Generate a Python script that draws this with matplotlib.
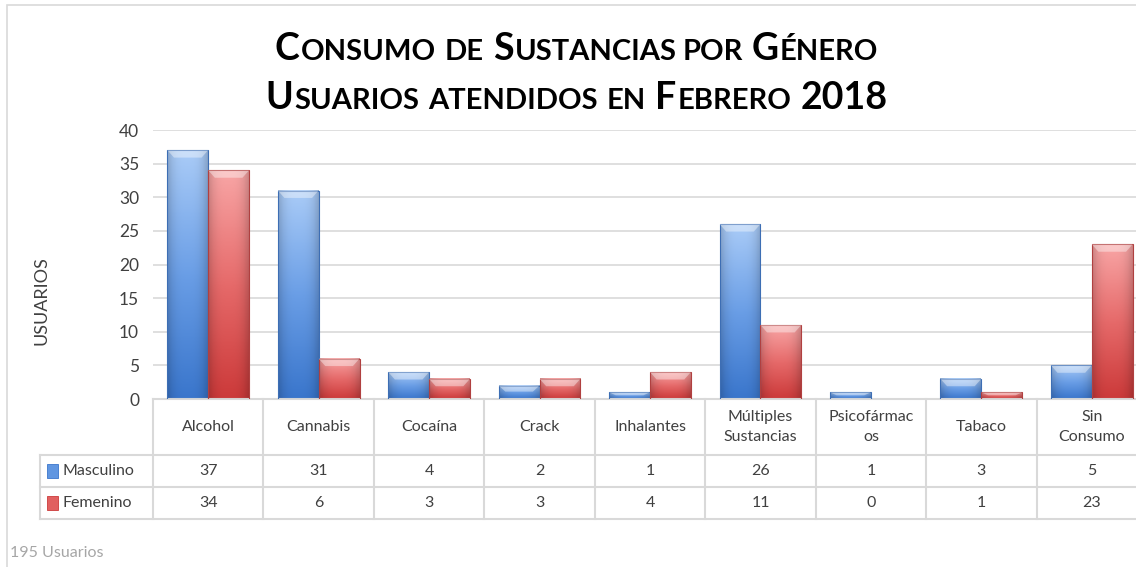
import numpy as np
import matplotlib
matplotlib.use("Agg")
import matplotlib.pyplot as plt
from matplotlib.colors import LinearSegmentedColormap
from matplotlib.patches import Rectangle, Polygon

# Data
categorias = ['Alcohol', 'Cannabis', 'Cocaína', 'Crack', 'Inhalantes',
              'Múltiples\nSustancias', 'Psicofármac\nos', 'Tabaco', 'Sin\nConsumo']
masculino = [37, 31, 4, 2, 1, 26, 1, 3, 5]
femenino = [34, 6, 3, 3, 4, 11, 0, 1, 23]
series = ['Masculino', 'Femenino']
titulo = ['Consumo de Sustancias  por Género', 'Usuarios atendidos en Febrero 2018']
nota = '195 Usuarios'

W, H = 1136, 567
FONT = 'Lato'
plt.rcParams['font.family'] = [FONT, 'DejaVu Sans']

fig = plt.figure(figsize=(W / 100, H / 100), dpi=100)
fig.patch.set_facecolor('white')

# chart frame (light grey border)
fig.add_artist(Rectangle((7 / W, -0.1), 1.2, 1 - 5 / H + 0.1, transform=fig.transFigure,
                         fill=False, edgecolor='#d9d9d9', linewidth=1.2))

ax = fig.add_axes([153 / W, 1 - 399 / H, 994 / W, 269 / H])
ax.set_xlim(-0.5, len(categorias) - 0.5)
ax.set_ylim(0, 40)
ax.set_yticks(range(0, 41, 5))
ax.set_xticks([])
ax.tick_params(axis='y', length=0, pad=10, labelsize=12.5, labelcolor='#404040')
ax.grid(axis='y', color='#d9d9d9', linewidth=1.2)
ax.set_axisbelow(True)
for s in ['top', 'right', 'left']:
    ax.spines[s].set_visible(False)
ax.spines['bottom'].set_color('#d9d9d9')
ax.spines['bottom'].set_linewidth(1.5)
ax.set_ylabel('USUARIOS', fontsize=13, color='#404040')
ax.yaxis.set_label_coords(-0.104, 0.365)

cmap_blue = LinearSegmentedColormap.from_list('b', ['#3a76cc', '#6a9ee6', '#a9cbf7'])
cmap_red = LinearSegmentedColormap.from_list('r', ['#cc3a3a', '#e66a6a', '#f8a5a5'])

# vertical gradient with darker left/right edges (cylinder look)
gv = np.linspace(0, 1, 64).reshape(-1, 1)
gh = np.linspace(-1, 1, 32).reshape(1, -1)
shade = 1 - 0.18 * np.abs(gh) ** 3


def bar_image(cmap):
    rgba = cmap(np.repeat(gv, gh.shape[1], axis=1))
    rgba[..., :3] *= shade[..., None]
    return rgba


img_blue = bar_image(cmap_blue)
img_red = bar_image(cmap_red)

bw = 0.37
x = np.arange(len(categorias))
for vals, off, img, edge in [(masculino, -bw / 2, img_blue, '#3d6eb4'),
                             (femenino, bw / 2, img_red, '#b04040')]:
    for xi, v in zip(x, vals):
        if v <= 0:
            continue
        x0, x1 = xi + off - bw / 2, xi + off + bw / 2
        ax.imshow(img, extent=[x0, x1, 0, v], origin='lower', aspect='auto', zorder=2)
        ax.add_patch(Rectangle((x0, 0), bw, v, fill=False, edgecolor=edge,
                               linewidth=0.8, zorder=3))
        dy = min(1.1, v * 0.45)
        d = 0.06
        ax.add_patch(Polygon([(x0, v), (x1, v), (x1 - d, v - dy), (x0 + d, v - dy)],
                             closed=True, facecolor='white', alpha=0.4,
                             edgecolor='none', zorder=3))
ax.set_xlim(-0.5, len(categorias) - 0.5)
ax.set_ylim(0, 40)

# data table below the plot
tc = '#d9d9d9'
ph = 269.0
y_row1 = -(455 - 399) / ph
y_row2 = -(487 - 399) / ph
y_row3 = -(519 - 399) / ph
x_leg = (40 - 153) / 110.4 - 0.5
trans = ax.get_xaxis_transform()
kw = dict(transform=trans, clip_on=False, color=tc, linewidth=1.5)
for b in np.arange(len(categorias) + 1) - 0.5:
    ax.plot([b, b], [0, y_row3], **kw)
ax.plot([x_leg, x_leg], [y_row1, y_row3], **kw)
for yy in [y_row1, y_row2, y_row3]:
    ax.plot([x_leg, len(categorias) - 0.5], [yy, yy], **kw)

tk = dict(transform=trans, ha='center', va='center', fontsize=11.5, color='#404040',
          clip_on=False, linespacing=1.5)
for xi, cat in zip(x, categorias):
    ax.text(xi, y_row1 / 2, cat, **tk)
for xi, m, f in zip(x, masculino, femenino):
    ax.text(xi, (y_row1 + y_row2) / 2, str(m), **tk)
    ax.text(xi, (y_row2 + y_row3) / 2, str(f), **tk)

for yy, name, cmap in [((y_row1 + y_row2) / 2, series[0], cmap_blue),
                       ((y_row2 + y_row3) / 2, series[1], cmap_red)]:
    ax.text(x_leg + 0.2, yy, name, transform=trans, ha='left', va='center',
            fontsize=11.5, color='#404040', clip_on=False)
    sx = x_leg + 0.06
    ax.add_patch(Rectangle((sx, yy - 0.025), 0.1, 0.05, transform=trans, clip_on=False,
                           facecolor=cmap(0.4), edgecolor=cmap(0.0), linewidth=0.6))

fig.text(10 / W, 1 - 553 / H, nota, fontsize=11.5, color='#a6a6a6', va='center', ha='left')


# title in small caps
def small_caps(line, y_base, big, small):
    r = fig.canvas.get_renderer()
    pieces = []
    for word in line.split(' '):
        if word == '':
            pieces.append(None)
            continue
        runs = []
        for ch in word:
            is_big = not ch.islower()
            if runs and runs[-1][1] == is_big:
                runs[-1][0] += ch.upper()
            else:
                runs.append([ch.upper(), is_big])
        pieces.append(runs)
    gap = small * 100 / 72 * 0.28
    items = []
    total = 0
    for p in pieces:
        if p is None:
            total += gap * 0.6
            items.append(('gap', gap * 0.6))
            continue
        if items and items[-1][0] != 'gap':
            total += gap
            items.append(('gap', gap))
        for txt, b in p:
            t = fig.text(0, y_base, txt, fontsize=big if b else small, fontweight='bold',
                         color='black', va='baseline', ha='left')
            w = t.get_window_extent(r).width + 1
            items.append((t, w))
            total += w
    xp = 577 - total / 2
    for obj, w in items:
        if obj != 'gap':
            obj.set_x(xp / W)
        xp += w


small_caps(titulo[0], 1 - 60 / H, 27, 21)
small_caps(titulo[1], 1 - 109 / H, 27, 21)

fig.savefig('out.png', dpi=100, facecolor='white')
